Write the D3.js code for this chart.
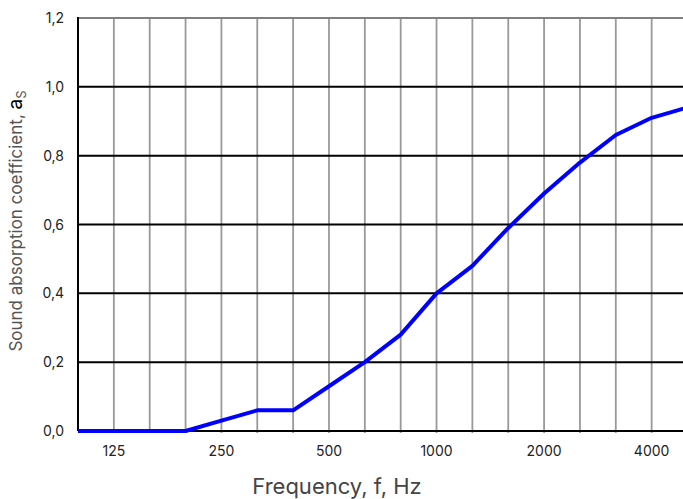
<!DOCTYPE html>
<html><head><meta charset="utf-8">
<script src="https://cdn.jsdelivr.net/npm/d3@7"></script>
<style>
html,body{margin:0;padding:0;background:#fff;overflow:hidden;}
svg{display:block;font-family:Inter,Roboto,"Liberation Sans",sans-serif;}
</style></head>
<body>
<svg id="c" width="683" height="499"></svg>
<script>
const bands = ["100","125","160","200","250","315","400","500","630","800","1000","1250","1600","2000","2500","3150","4000","5000"];
const absorption = [0,0,0,0,0.03,0.06,0.06,0.13,0.2,0.28,0.4,0.48,0.59,0.69,0.78,0.86,0.91,0.94];
const xTickLabels = ["125","250","500","1000","2000","4000"];
const yTicks = [0,0.2,0.4,0.6,0.8,1.0,1.2];

const svg = d3.select("#c");
const L = 78, T = 18, B = 431, R = 687.5;
const x = d3.scalePoint().domain(bands).range([L, R]);
const y = d3.scaleLinear().domain([0, 1.2]).range([B, T]);
const fmt = v => d3.format(".1f")(v).replace(".", ",");

// vertical grid
svg.append("g").selectAll("line").data(bands.slice(1)).join("line")
  .attr("x1", d => x(d)).attr("x2", d => x(d)).attr("y1", T).attr("y2", B + 2)
  .attr("stroke", "#999").attr("stroke-width", 1.8);

// horizontal grid
svg.append("g").selectAll("line").data(yTicks.filter(v => v > 0 && v < 1.2)).join("line")
  .attr("x1", L).attr("x2", 683).attr("y1", d => y(d)).attr("y2", d => y(d))
  .attr("stroke", "#000").attr("stroke-width", 2);

// top border
svg.append("line").attr("x1", L).attr("x2", 683).attr("y1", y(1.2)).attr("y2", y(1.2))
  .attr("stroke", "#808080").attr("stroke-width", 2);
// left axis
svg.append("line").attr("x1", L).attr("x2", L).attr("y1", T - 1).attr("y2", B)
  .attr("stroke", "#000").attr("stroke-width", 2);
// bottom axis
svg.append("line").attr("x1", L).attr("x2", 683).attr("y1", B).attr("y2", B)
  .attr("stroke", "#000").attr("stroke-width", 2);

// y tick labels
svg.append("g").selectAll("text").data(yTicks).join("text")
  .attr("x", 64).attr("y", d => y(d) + 5).attr("text-anchor", "end")
  .attr("font-size", 14).attr("fill", "#222").text(fmt);

// x tick labels
svg.append("g").selectAll("text").data(xTickLabels).join("text")
  .attr("x", d => x(d)).attr("y", 456).attr("text-anchor", "middle")
  .attr("font-size", 14).attr("fill", "#222").text(d => d);

// line
const line = d3.line().x((d, i) => x(bands[i])).y(d => y(d));
svg.append("path").datum(absorption).attr("d", line)
  .attr("fill", "none").attr("stroke", "#0000ff").attr("stroke-width", 4)
  .attr("stroke-linejoin", "round");

// x axis title
svg.append("text").attr("x", 337).attr("y", 494).attr("text-anchor", "middle")
  .attr("font-size", 22).attr("fill", "#444").text("Frequency, f, Hz");

// y axis title
const yt = svg.append("text").attr("transform", "translate(22,221) rotate(-90)")
  .attr("text-anchor", "middle").attr("font-size", 17).attr("fill", "#555");
yt.append("tspan").text("Sound absorption coefficient, ");
yt.append("tspan").attr("fill", "#000").attr("font-size", 19).text("a");
yt.append("tspan").attr("font-size", 13).attr("dy", 4).text("S");
</script>
</body></html>
